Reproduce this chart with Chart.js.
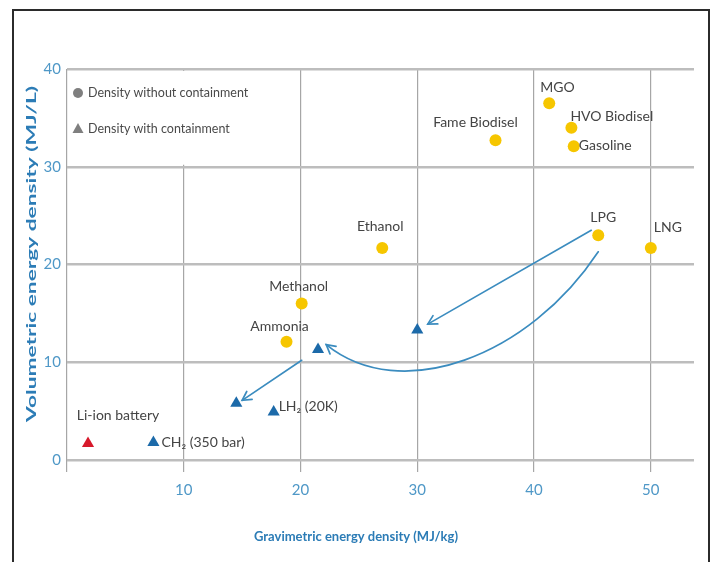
<!DOCTYPE html>
<html>
<head>
<meta charset="utf-8">
<script src="https://cdn.jsdelivr.net/npm/chart.js@4"></script>
<style>
  html, body { margin: 0; padding: 0; background: #fff; }
  #wrap { position: relative; width: 712px; height: 562px; overflow: hidden; }
  #chart { position: absolute; left: 0; top: 0; }
  #frame { position: absolute; left: 12px; top: 9px; width: 694px; height: 600px;
           border: 2px solid #2b2b2b; pointer-events: none; }
</style>
</head>
<body>
<div id="wrap">
  <canvas id="chart" width="712" height="562"></canvas>
  <div id="frame"></div>
</div>
<script>
// fuels, density without containment (MJ/kg, MJ/L)
const fuelNames = ["MGO", "HVO Biodisel", "Gasoline", "Fame Biodisel", "Ethanol", "LPG", "LNG", "Methanol", "Ammonia"];
const fuelGrav = [41.3, 43.2, 43.4, 36.7, 27.0, 45.5, 50.0, 20.1, 18.8];
const fuelVol = [36.5, 34.0, 32.1, 32.7, 21.7, 23.0, 21.7, 16.0, 12.1];

// density with containment
const containedNames = ["", "", "", "LH₂ (20K)", "CH₂ (350 bar)"];
const containedGrav = [30.0, 21.5, 14.5, 17.7, 7.4];
const containedVol = [13.3, 11.3, 5.8, 4.9, 1.8];

const batteryNames = ["Li-ion battery"];
const batteryGrav = [1.8];
const batteryVol = [1.7];

const xTicks = [0, 10, 20, 30, 40, 50];
const yTicks = [0, 10, 20, 30, 40];

// arrows, in chart units: [fromX, fromY, toX, toY]
const straightArrows = [
    [44.9, 23.5, 30.9, 13.9],
    [20.1, 10.2, 15.0, 6.1],
];
// curved arrow, cubic bezier control points in chart units
const curvedArrow = [[45.5, 21.3], [39.6, 10.6], [28.6, 5.6], [22.2, 11.8]];

// label placement (px offset from point, alignment)
const fuelLabelPos = [
    [-9, -16, "left"], [-1, -11, "left"], [5, -1, "left"], [-20, -18, "center"],
    [-2, -21, "center"], [5, -18, "center"], [3, -20, "left"], [-3, -17, "center"], [-7, -15, "center"],
];
const containedLabelPos = [null, null, null, [5, -6, "left"], [8, 0, "left"]];
const batteryLabelPos = [[30, -28, "center"]];

const toPoints = (xs, ys) => xs.map((x, i) => ({ x: x, y: ys[i] }));

const labelFont = "14px Lato, sans-serif";
const arrowColor = "#3b8cbf";
const titleColor = "#2c7cb6";

const pointLabels = {
    id: "pointLabels",
    afterDatasetsDraw(chart) {
        const ctx = chart.ctx;
        ctx.save();
        ctx.font = labelFont;
        ctx.fillStyle = "#444";
        ctx.textBaseline = "middle";
        chart.data.datasets.forEach((ds, di) => {
            const meta = chart.getDatasetMeta(di);
            ds.names.forEach((txt, i) => {
                if (!txt) return;
                const [dx, dy, align] = ds.labelPos[i];
                const pt = meta.data[i];
                ctx.textAlign = align;
                ctx.fillText(txt, pt.x + dx, pt.y + dy);
            });
        });
        ctx.restore();
    },
};

const drawHead = (ctx, x, y, angle) => {
    const len = 10;
    const spread = 0.5;
    ctx.beginPath();
    ctx.moveTo(x + Math.cos(angle + spread) * len, y + Math.sin(angle + spread) * len);
    ctx.lineTo(x, y);
    ctx.lineTo(x + Math.cos(angle - spread) * len, y + Math.sin(angle - spread) * len);
    ctx.stroke();
};

const arrows = {
    id: "arrows",
    beforeDatasetsDraw(chart) {
        const ctx = chart.ctx;
        const xs = chart.scales.x;
        const ys = chart.scales.y;
        const px = (v) => xs.getPixelForValue(v);
        const py = (v) => ys.getPixelForValue(v);

        // gap in the 10 gridline behind the legend
        ctx.save();
        ctx.fillStyle = "#fff";
        ctx.fillRect(px(10) - 2, py(40) + 2, 4, py(30) - py(40) - 4);
        ctx.restore();

        ctx.save();
        ctx.strokeStyle = arrowColor;
        ctx.lineWidth = 1.7;
        ctx.lineCap = "round";
        straightArrows.forEach(([x0, y0, x1, y1]) => {
            const a = { x: px(x0), y: py(y0) };
            const b = { x: px(x1), y: py(y1) };
            ctx.beginPath();
            ctx.moveTo(a.x, a.y);
            ctx.lineTo(b.x, b.y);
            ctx.stroke();
            drawHead(ctx, b.x, b.y, Math.atan2(a.y - b.y, a.x - b.x));
        });
        const c = curvedArrow.map(([x, y]) => ({ x: px(x), y: py(y) }));
        ctx.beginPath();
        ctx.moveTo(c[0].x, c[0].y);
        ctx.bezierCurveTo(c[1].x, c[1].y, c[2].x, c[2].y, c[3].x, c[3].y);
        ctx.stroke();
        drawHead(ctx, c[3].x, c[3].y, Math.atan2(c[2].y - c[3].y, c[2].x - c[3].x));
        ctx.restore();

        // legend
        const left = chart.chartArea.left;
        const top = chart.chartArea.top;
        ctx.save();
        ctx.fillStyle = "#7f7f7f";
        ctx.beginPath();
        ctx.arc(left + 11, top + 24, 5, 0, Math.PI * 2);
        ctx.fill();
        ctx.beginPath();
        ctx.moveTo(left + 11, top + 54);
        ctx.lineTo(left + 16.5, top + 64);
        ctx.lineTo(left + 5.5, top + 64);
        ctx.closePath();
        ctx.fill();
        ctx.font = "12.5px Lato, sans-serif";
        ctx.fillStyle = "#4a4a4a";
        ctx.textBaseline = "middle";
        ctx.textAlign = "left";
        ctx.fillText("Density without containment", left + 21, top + 24);
        ctx.fillText("Density with containment", left + 21, top + 60);
        ctx.restore();
    },
    afterDraw(chart) {
        const ctx = chart.ctx;
        ctx.save();
        ctx.fillStyle = titleColor;
        ctx.font = "bold 13px Lato, sans-serif";
        ctx.textAlign = "center";
        ctx.textBaseline = "middle";
        ctx.fillText("Gravimetric energy density (MJ/kg)", 356, 537);

        const yTitle = "Volumetric energy density (MJ/L)";
        ctx.translate(32, 254);
        ctx.rotate(-Math.PI / 2);
        const w = ctx.measureText(yTitle).width;
        ctx.scale(336 / w, 1.05);
        ctx.fillText(yTitle, 0, 0);
        ctx.restore();
    },
};

const tickFont = { family: "Lato, sans-serif", size: 15 };
const tickColor = "#4f98c7";

new Chart(document.getElementById("chart"), {
    type: "scatter",
    data: {
        datasets: [
            {
                label: "Density without containment",
                data: toPoints(fuelGrav, fuelVol),
                names: fuelNames,
                labelPos: fuelLabelPos,
                pointStyle: "circle",
                pointRadius: 6,
                pointHoverRadius: 6,
                backgroundColor: "#f6c600",
                borderWidth: 0,
            },
            {
                label: "Density with containment",
                data: toPoints(containedGrav, containedVol),
                names: containedNames,
                labelPos: containedLabelPos,
                pointStyle: "triangle",
                pointRadius: 7,
                pointHoverRadius: 7,
                backgroundColor: "#1c6aa9",
                borderWidth: 0,
            },
            {
                label: "Battery",
                data: toPoints(batteryGrav, batteryVol),
                names: batteryNames,
                labelPos: batteryLabelPos,
                pointStyle: "triangle",
                pointRadius: 7,
                pointHoverRadius: 7,
                backgroundColor: "#d7192b",
                borderWidth: 0,
            },
        ],
    },
    options: {
        responsive: false,
        animation: false,
        layout: { padding: { top: 69, right: 18, left: 0, bottom: 0 } },
        plugins: {
            legend: { display: false },
            tooltip: { enabled: false },
        },
        scales: {
            x: {
                type: "linear",
                min: 0,
                max: 53.7,
                afterFit: (s) => { s.height = 102; },
                afterBuildTicks: (s) => { s.ticks = xTicks.map((v) => ({ value: v })); },
                border: { display: false },
                grid: {
                    color: "#a6a6a6",
                    lineWidth: 1.2,
                    drawTicks: true,
                    tickLength: 12,
                },
                ticks: {
                    padding: 9,
                    color: tickColor,
                    font: tickFont,
                    callback: (v) => (v === 0 ? "" : v),
                },
            },
            y: {
                type: "linear",
                min: 0,
                max: 40,
                afterFit: (s) => { s.width = 67; },
                afterBuildTicks: (s) => { s.ticks = yTicks.map((v) => ({ value: v })); },
                border: { display: false },
                grid: {
                    color: "#bdbdbd",
                    lineWidth: 2.5,
                    drawTicks: false,
                },
                ticks: {
                    padding: 6,
                    color: tickColor,
                    font: tickFont,
                },
            },
        },
    },
    plugins: [arrows, pointLabels],
});
</script>
</body>
</html>
